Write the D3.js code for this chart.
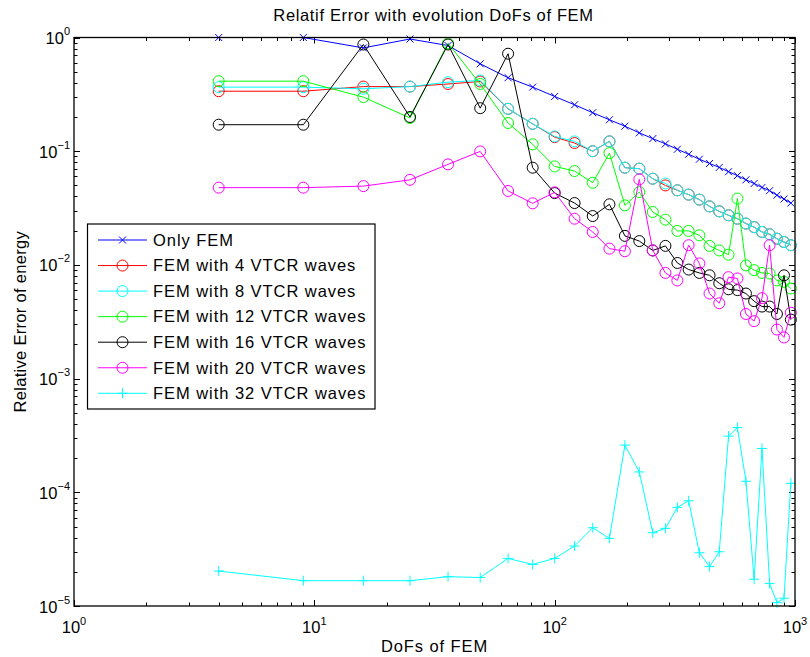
<!DOCTYPE html>
<html>
<head>
<meta charset="utf-8">
<script src="https://cdn.jsdelivr.net/npm/d3@7"></script>
<style>
  html, body { margin: 0; padding: 0; background: #fff; }
  svg { display: block; }
  text { font-family: "Liberation Sans", Arial, Helvetica, sans-serif; fill: #000; }
</style>
</head>
<body>
<svg id="chart" width="810" height="657"></svg>
<script>
// ---------------- DATA ----------------
const dofs = [4, 9, 16, 25, 36, 49, 64, 81, 100, 121, 144, 169, 196, 225, 256, 289, 324, 361, 400, 441, 484, 529, 576, 625, 676, 729, 784, 841, 900, 961];

const onlyFEM = [1.0, 1.0, 0.81, 0.97, 0.85, 0.587, 0.443, 0.366, 0.303, 0.256, 0.218, 0.189, 0.166, 0.145, 0.129, 0.116, 0.104, 0.094, 0.085, 0.078, 0.072, 0.066, 0.061, 0.056, 0.052, 0.048, 0.045, 0.041, 0.038, 0.035];

const vtcr4 = [0.337, 0.337, 0.37, 0.37, 0.39, 0.41, 0.236, 0.174, 0.133, 0.118, 0.100, 0.122, 0.0716, 0.0702, 0.0573, 0.050, 0.0453, 0.0415, 0.0375, 0.0327, 0.0296, 0.0273, 0.0255, 0.0231, 0.0215, 0.0195, 0.0186, 0.0170, 0.0159, 0.0149];

const vtcr8 = [0.366, 0.366, 0.354, 0.37, 0.405, 0.419, 0.236, 0.174, 0.135, 0.122, 0.100, 0.122, 0.0716, 0.0702, 0.0573, 0.052, 0.0453, 0.0415, 0.0375, 0.0327, 0.0296, 0.0273, 0.0255, 0.0231, 0.0215, 0.0195, 0.0186, 0.0170, 0.0159, 0.0149];

const vtcr12 = [0.413, 0.413, 0.299, 0.196, 0.89, 0.39, 0.177, 0.115, 0.0735, 0.0669, 0.0528, 0.0962, 0.0334, 0.0437, 0.0292, 0.025, 0.0199, 0.0199, 0.0182, 0.0147, 0.0134, 0.0123, 0.0383, 0.0099, 0.0090, 0.0085, 0.0084, 0.0073, 0.0071, 0.0062];

const vtcr16 = [0.171, 0.171, 0.868, 0.2, 0.868, 0.239, 0.72, 0.0716, 0.0428, 0.035, 0.0269, 0.0341, 0.0180, 0.0162, 0.0134, 0.0147, 0.0104, 0.0091, 0.0085, 0.0081, 0.0069, 0.0061, 0.0060, 0.0056, 0.0048, 0.0043, 0.0043, 0.0037, 0.0081, 0.0033];

const vtcr20 = [0.0478, 0.0478, 0.0493, 0.056, 0.0766, 0.0996, 0.0447, 0.0348, 0.0435, 0.0255, 0.0195, 0.0139, 0.0132, 0.0565, 0.0134, 0.0085, 0.0073, 0.0149, 0.0103, 0.0056, 0.0046, 0.0078, 0.0076, 0.0037, 0.0032, 0.0051, 0.0149, 0.0027, 0.0023, 0.0038];

const vtcr32 = [2.03e-5, 1.67e-5, 1.67e-5, 1.67e-5, 1.81e-5, 1.78e-5, 2.62e-5, 2.32e-5, 2.62e-5, 3.37e-5, 4.88e-5, 3.93e-5, 2.60e-4, 1.51e-4, 4.41e-5, 4.82e-5, 7.37e-5, 8.42e-5, 2.94e-5, 2.22e-5, 3.0e-5, 3.12e-4, 3.71e-4, 1.25e-4, 1.72e-5, 2.43e-4, 1.58e-5, 1.07e-5, 1.17e-5, 1.20e-4];

const seriesNames = ["Only FEM", "FEM with 4 VTCR waves", "FEM with 8 VTCR waves", "FEM with 12 VTCR waves", "FEM with 16 VTCR waves", "FEM with 20 VTCR waves", "FEM with 32 VTCR waves"];
const seriesValues = [onlyFEM, vtcr4, vtcr8, vtcr12, vtcr16, vtcr20, vtcr32];
const seriesColors = ["#0000ff", "#ff0000", "#00ffff", "#00ff00", "#000000", "#ff00ff", "#00ffff"];
const seriesMarkers = ["x", "o", "o", "o", "o", "o", "+"];

const xTickExps = [0, 1, 2, 3];
const yTickExps = [0, -1, -2, -3, -4, -5];

const titleText = "Relatif Error with evolution DoFs of FEM";
const xLabelText = "DoFs of FEM";
const yLabelText = "Relative Error of energy";

// ---------------- LAYOUT ----------------
const L = 74, R = 795, T = 37.5, B = 606;
const svg = d3.select("#chart");

const x = d3.scaleLog().domain([1, 1000]).range([L, R]);
const y = d3.scaleLog().domain([1e-5, 1]).range([B, T]);

svg.append("rect").attr("x", L).attr("y", T).attr("width", R - L).attr("height", B - T).attr("fill", "#fff");

// ---------------- TICKS ----------------
const gTicks = svg.append("g").attr("stroke", "#000").attr("stroke-width", 1);
const majLen = 6, minLen = 3.5;
x.ticks().forEach(v => {
  const isMaj = Math.abs(Math.log10(v) - Math.round(Math.log10(v))) < 1e-9;
  const len = isMaj ? majLen : minLen;
  const px = Math.round(x(v)) + 0.5;
  gTicks.append("line").attr("x1", px).attr("x2", px).attr("y1", B).attr("y2", B - len);
  gTicks.append("line").attr("x1", px).attr("x2", px).attr("y1", T).attr("y2", T + len);
});
y.ticks().forEach(v => {
  const isMaj = Math.abs(Math.log10(v) - Math.round(Math.log10(v))) < 1e-9;
  const len = isMaj ? majLen : minLen;
  const py = Math.round(y(v)) + 0.5;
  gTicks.append("line").attr("y1", py).attr("y2", py).attr("x1", L).attr("x2", L + len);
  gTicks.append("line").attr("y1", py).attr("y2", py).attr("x1", R).attr("x2", R - len);
});

// ---------------- TICK LABELS ----------------
const tickFont = 16.5, supFont = 11;
xTickExps.forEach(e => {
  const t = svg.append("text").attr("x", x(Math.pow(10, e))).attr("y", 633)
    .attr("text-anchor", "middle").attr("font-size", tickFont);
  t.append("tspan").text("10");
  t.append("tspan").attr("font-size", supFont).attr("dy", -8).text(String(e));
});
yTickExps.forEach(e => {
  const t = svg.append("text").attr("x", 70).attr("y", y(Math.pow(10, e)) + 6.5)
    .attr("text-anchor", "end").attr("font-size", tickFont);
  t.append("tspan").text("10");
  t.append("tspan").attr("font-size", supFont).attr("dy", -9).text(e === 0 ? "0" : "\u2212" + Math.abs(e));
});

// ---------------- SERIES ----------------
function drawMarker(g, type, cx, cy, color) {
  if (type === "o") {
    g.append("circle").attr("cx", cx).attr("cy", cy).attr("r", 5.5)
      .attr("fill", "none").attr("stroke", color).attr("stroke-width", 1);
  } else if (type === "x") {
    const s = 3.5;
    g.append("path").attr("d", `M${cx - s},${cy - s}L${cx + s},${cy + s}M${cx - s},${cy + s}L${cx + s},${cy - s}`)
      .attr("stroke", color).attr("stroke-width", 1).attr("fill", "none");
  } else if (type === "+") {
    const s = 5;
    g.append("path").attr("d", `M${cx - s},${cy}L${cx + s},${cy}M${cx},${cy - s}L${cx},${cy + s}`)
      .attr("stroke", color).attr("stroke-width", 1).attr("fill", "none");
  }
}

const line = d3.line().x(d => x(d[0])).y(d => y(d[1]));
const gSeries = svg.append("g");
seriesValues.forEach((vals, i) => {
  const pts = dofs.map((d, k) => [d, vals[k]]);
  const g = gSeries.append("g");
  g.append("path").attr("d", line(pts)).attr("fill", "none")
    .attr("stroke", seriesColors[i]).attr("stroke-width", 1);
  pts.forEach(p => drawMarker(g, seriesMarkers[i], x(p[0]), y(p[1]), seriesColors[i]));
});

// ---------------- AXES BOX ----------------
svg.append("rect").attr("x", L).attr("y", T).attr("width", R - L).attr("height", B - T)
  .attr("fill", "none").attr("stroke", "#000").attr("stroke-width", 1.3);

// ---------------- LEGEND ----------------
const lg = svg.append("g");
const lx = 87.5, ly = 224, lw = 287.5, lh = 185;
lg.append("rect").attr("x", lx).attr("y", ly).attr("width", lw).attr("height", lh)
  .attr("fill", "#fff").attr("stroke", "#000").attr("stroke-width", 1.2);
seriesNames.forEach((name, i) => {
  const cy = 240 + i * 25.55;
  lg.append("line").attr("x1", 98).attr("x2", 147).attr("y1", cy).attr("y2", cy)
    .attr("stroke", seriesColors[i]).attr("stroke-width", 1);
  drawMarker(lg, seriesMarkers[i], 122.5, cy, seriesColors[i]);
  lg.append("text").attr("x", 153).attr("y", cy + 5.8).attr("font-size", 16.5)
    .attr("letter-spacing", 0.95).text(name);
});

// ---------------- TITLES ----------------
svg.append("text").attr("x", (L + R) / 2 - 1).attr("y", 21).attr("text-anchor", "middle")
  .attr("font-size", 16.5).attr("letter-spacing", 0.65).text(titleText);
svg.append("text").attr("x", (L + R) / 2).attr("y", 652).attr("text-anchor", "middle")
  .attr("font-size", 16.5).attr("letter-spacing", 0.9).text(xLabelText);
svg.append("text").attr("transform", `translate(26,${(T + B) / 2}) rotate(-90)`)
  .attr("text-anchor", "middle").attr("font-size", 16.5).attr("letter-spacing", 0.3).text(yLabelText);
</script>
</body>
</html>
